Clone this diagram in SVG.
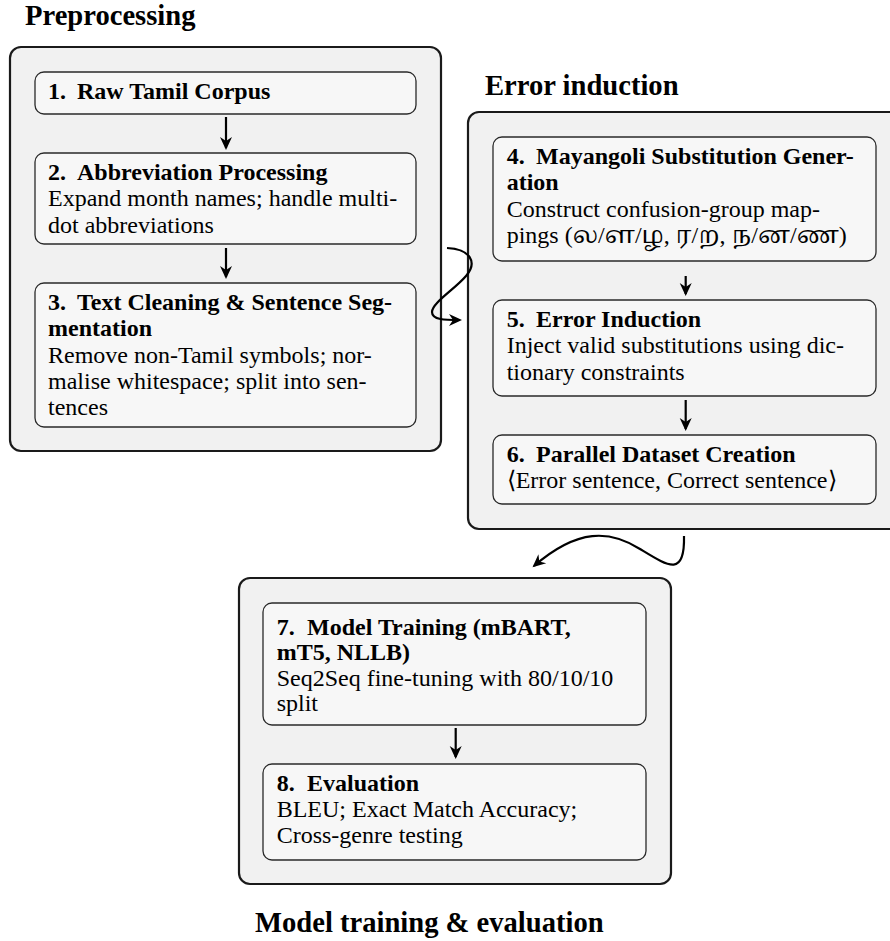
<svg xmlns="http://www.w3.org/2000/svg" width="890" height="941" viewBox="0 0 890 941">
<style>
.grp{fill:#f1f1f1;stroke:#1a1a1a;stroke-width:2.2}
.box{fill:#f7f7f7;stroke:#2a2a2a;stroke-width:1.3}
.gt{font-family:"Liberation Serif","Times New Roman",serif;font-weight:bold;font-size:28.6px;fill:#000}
.bt{font-family:"Liberation Serif","Times New Roman",serif;font-weight:bold;font-size:24px;fill:#000}
.tx{font-family:"Liberation Serif","Times New Roman","Noto Serif Tamil","Noto Sans Tamil","Lohit Tamil",serif;font-size:24px;fill:#000}
.cn{fill:none;stroke:#000;stroke-width:2.2;marker-end:url(#ah)}
</style>
<defs>
<marker id="ah" viewBox="-14 -7 16 14" refX="-2" refY="0" markerWidth="16" markerHeight="14" markerUnits="userSpaceOnUse" orient="auto">
<path d="M0,0 L-13,-6 L-9,0 L-13,6 Z" fill="#000"/>
</marker>
</defs>

<g id="preprocessing">
<text class="gt" x="25" y="25">Preprocessing</text>
<rect class="grp" x="10" y="47" width="431" height="404" rx="11"/>
</g>
<g id="error-induction">
<text class="gt" x="485" y="95">Error induction</text>
<rect class="grp" x="468" y="112" width="440" height="417" rx="11"/>
</g>
<g id="model-training">
<rect class="grp" x="239" y="578" width="432" height="306" rx="11"/>
<text class="gt" x="255" y="932">Model training &amp; evaluation</text>
</g>

<g id="n1">
<rect class="box" x="35" y="72" width="381" height="42" rx="9"/>
<text class="bt" y="99"><tspan x="48">1.</tspan><tspan x="77">Raw Tamil Corpus</tspan></text>
</g>
<g id="n2">
<rect class="box" x="35" y="153" width="381" height="91" rx="9"/>
<text class="bt" y="180"><tspan x="48">2.</tspan><tspan x="77">Abbreviation Processing</tspan></text>
<text class="tx" x="48" y="206.3">Expand month names; handle multi-</text>
<text class="tx" x="48" y="232.6">dot abbreviations</text>
</g>
<g id="n3">
<rect class="box" x="35" y="283" width="381" height="144" rx="9"/>
<text class="bt" y="310"><tspan x="48">3.</tspan><tspan x="77">Text Cleaning &amp; Sentence Seg-</tspan></text>
<text class="bt" x="48" y="336.3">mentation</text>
<text class="tx" x="48" y="362.6">Remove non-Tamil symbols; nor-</text>
<text class="tx" x="48" y="388.9">malise whitespace; split into sen-</text>
<text class="tx" x="48" y="415.2">tences</text>
</g>
<g id="n4">
<rect class="box" x="493" y="137" width="383" height="124" rx="9"/>
<text class="bt" y="164"><tspan x="506.7">4.</tspan><tspan x="536">Mayangoli Substitution Gener-</tspan></text>
<text class="bt" x="506.7" y="190.3">ation</text>
<text class="tx" x="506.7" y="216.6">Construct confusion-group map-</text>
<text class="tx" x="506.7" y="243">pings (ல/ள/ழ, ர/ற, ந/ன/ண)</text>
</g>
<g id="n5">
<rect class="box" x="493" y="300" width="383" height="96" rx="9"/>
<text class="bt" y="327"><tspan x="506.7">5.</tspan><tspan x="536">Error Induction</tspan></text>
<text class="tx" x="506.7" y="353.3">Inject valid substitutions using dic-</text>
<text class="tx" x="506.7" y="379.6">tionary constraints</text>
</g>
<g id="n6">
<rect class="box" x="493" y="435" width="383" height="69" rx="9"/>
<text class="bt" y="462"><tspan x="506.7">6.</tspan><tspan x="536">Parallel Dataset Creation</tspan></text>
<text class="tx" x="506.7" y="488.3">⟨Error sentence, Correct sentence⟩</text>
</g>
<g id="n7">
<rect class="box" x="263" y="603" width="383" height="122" rx="9"/>
<text class="bt" y="634.5"><tspan x="276.7">7.</tspan><tspan x="307">Model Training (mBART,</tspan></text>
<text class="bt" x="276.7" y="660">mT5, NLLB)</text>
<text class="tx" x="276.7" y="685.5">Seq2Seq fine-tuning with 80/10/10</text>
<text class="tx" x="276.7" y="711">split</text>
</g>
<g id="n8">
<rect class="box" x="263" y="764" width="383" height="96" rx="9"/>
<text class="bt" y="791"><tspan x="276.7">8.</tspan><tspan x="307">Evaluation</tspan></text>
<text class="tx" x="276.7" y="817">BLEU; Exact Match Accuracy;</text>
<text class="tx" x="276.7" y="843">Cross-genre testing</text>
</g>

<g id="connectors">
<path class="cn" d="M226,117 L226,148"/>
<path class="cn" d="M226,248 L226,277"/>
<path class="cn" d="M447,248 C470,249 478,262 466,276 C455,289 432,303 432,312 C432,320 445,320 460,320"/>
<path class="cn" d="M685.7,276 L685.7,294"/>
<path class="cn" d="M685.7,400 L685.7,429"/>
<path class="cn" d="M684,536 C685,578 668,566 640,549 C610,530 578,528 534,566"/>
<path class="cn" d="M455.7,728 L455.7,757"/>
</g>
</svg>
